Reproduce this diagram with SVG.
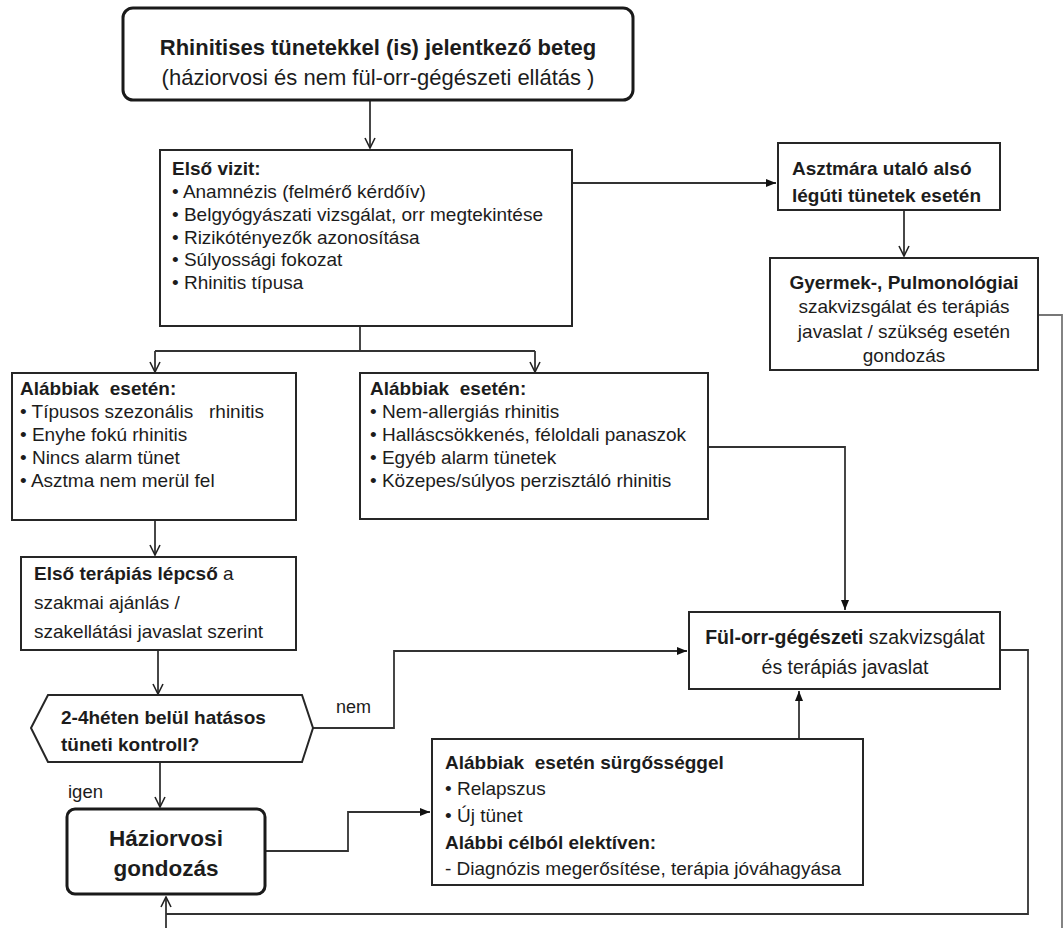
<svg xmlns="http://www.w3.org/2000/svg" width="1064" height="928" viewBox="0 0 1064 928">
<defs>
<marker id="open" viewBox="0 0 12 12" refX="11" refY="6" markerWidth="12" markerHeight="12" markerUnits="userSpaceOnUse" orient="auto">
<path d="M1,1 L11,6 L1,11" fill="none" stroke="#222" stroke-width="1.6"/>
</marker>
<marker id="fill" viewBox="0 0 10 10" refX="10" refY="5" markerWidth="10" markerHeight="10" markerUnits="userSpaceOnUse" orient="auto">
<path d="M0,1 L10,5 L0,9 Z" fill="#111"/>
</marker>
</defs>
<style>
text{font-family:"Liberation Sans",Arial,sans-serif;fill:#1c1c1c;white-space:pre}
.b{font-weight:bold}
.box{fill:#fff;stroke:#262626;stroke-width:2}
.rbox{fill:#fff;stroke:#1a1a1a;stroke-width:3}
.c{fill:none;stroke:#333;stroke-width:1.8}
.cl{fill:none;stroke:#777;stroke-width:1.8}
.t16{font-size:19px}
.t17{font-size:19px}
.mid{text-anchor:middle}
</style>

<g id="connectors">
<path class="c" d="M370,100 V148" marker-end="url(#open)"/>
<path class="c" d="M572,183 H776" marker-end="url(#fill)"/>
<path class="c" d="M904,210 V256" marker-end="url(#open)"/>
<path class="cl" d="M1038,315 H1062 V928"/>
<path class="c" d="M360,326 V351 M155,351 H535"/>
<path class="c" d="M155,351 V372" marker-end="url(#open)"/>
<path class="c" d="M535,351 V372" marker-end="url(#open)"/>
<path class="c" d="M708,447 H845 V610" marker-end="url(#fill)"/>
<path class="c" d="M155,520 V555" marker-end="url(#open)"/>
<path class="c" d="M158,650 V694" marker-end="url(#open)"/>
<path class="c" d="M313,728 H394 V651 H687" marker-end="url(#fill)"/>
<path class="c" d="M160,762 V807" marker-end="url(#open)"/>
<path class="c" d="M265,851 H348 V812 H430" marker-end="url(#fill)"/>
<path class="c" d="M799,739 V691" marker-end="url(#fill)"/>
<path class="c" d="M1000,650 H1028 V914 H166"/>
<path class="c" d="M166,928 V897" marker-end="url(#open)"/>
<text x="336" y="713" style="font-size:18px">nem</text>
<text x="68" y="798" style="font-size:18.5px">igen</text>
</g>

<g id="start">
<rect class="rbox" x="123" y="8" width="510" height="92" rx="10"/>
<text x="378" y="55" class="b mid" style="font-size:22px">Rhinitises tünetekkel (is) jelentkező beteg</text>
<text x="378" y="85" class="mid" style="font-size:22px">(háziorvosi és nem fül-orr-gégészeti ellátás )</text>
</g>

<g id="first-visit">
<rect class="box" x="160" y="150" width="412" height="176"/>
<text x="172" y="175" class="t16 b">Első vizit:</text>
<text x="172" y="198" class="t16">• Anamnézis (felmérő kérdőív)</text>
<text x="172" y="221" class="t16">• Belgyógyászati vizsgálat, orr megtekintése</text>
<text x="172" y="244" class="t16">• Rizikótényezők azonosítása</text>
<text x="172" y="266" class="t16">• Súlyossági fokozat</text>
<text x="172" y="289" class="t16">• Rhinitis típusa</text>
</g>

<g id="asthma">
<rect class="box" x="778" y="143" width="222" height="67"/>
<text x="792" y="175" class="t16 b">Asztmára utaló alsó</text>
<text x="792" y="202" class="t16 b">légúti tünetek esetén</text>
</g>

<g id="pulmo">
<rect class="box" x="770" y="258" width="268" height="112"/>
<text x="904" y="289" class="t16 b mid">Gyermek-, Pulmonológiai</text>
<text x="904" y="313" class="t16 mid">szakvizsgálat és terápiás</text>
<text x="904" y="338" class="t16 mid">javaslat / szükség esetén</text>
<text x="904" y="362" class="t16 mid">gondozás</text>
</g>

<g id="mild">
<rect class="box" x="12" y="373" width="284" height="147"/>
<text x="20" y="395" class="t16 b">Alábbiak  esetén:</text>
<text x="20" y="418" class="t16">• Típusos szezonális   rhinitis</text>
<text x="20" y="441" class="t16">• Enyhe fokú rhinitis</text>
<text x="20" y="464" class="t16">• Nincs alarm tünet</text>
<text x="20" y="487" class="t16">• Asztma nem merül fel</text>
</g>

<g id="severe">
<rect class="box" x="360" y="373" width="348" height="146"/>
<text x="370" y="395" class="t16 b">Alábbiak  esetén:</text>
<text x="370" y="418" class="t16">• Nem-allergiás rhinitis</text>
<text x="370" y="441" class="t16">• Halláscsökkenés, féloldali panaszok</text>
<text x="370" y="464" class="t16">• Egyéb alarm tünetek</text>
<text x="370" y="487" class="t16">• Közepes/súlyos perzisztáló rhinitis</text>
</g>

<g id="therapy">
<rect class="box" x="21" y="557" width="275" height="93"/>
<text x="34" y="580" class="t17"><tspan class="b">Első terápiás lépcső</tspan> a</text>
<text x="34" y="609" class="t17">szakmai ajánlás /</text>
<text x="34" y="638" class="t17">szakellátási javaslat szerint</text>
</g>

<g id="decision">
<polygon class="box" points="31,728 48,695 302,695 313,728 302,762 48,762"/>
<text x="61" y="724" class="t16 b">2-4héten belül hatásos</text>
<text x="61" y="751" class="t16 b">tüneti kontroll?</text>
</g>

<g id="ent">
<rect class="box" x="689" y="612" width="311" height="77"/>
<text x="845" y="644" class="mid" style="font-size:19.5px"><tspan class="b">Fül-orr-gégészeti</tspan> szakvizsgálat</text>
<text x="845" y="674" class="mid" style="font-size:19.5px">és terápiás javaslat</text>
</g>

<g id="gp">
<rect class="rbox" x="67" y="809" width="198" height="85" rx="8"/>
<text x="166" y="846" class="b mid" style="font-size:22.5px">Háziorvosi</text>
<text x="166" y="876" class="b mid" style="font-size:22.5px">gondozás</text>
</g>

<g id="urgent">
<rect class="box" x="432" y="739" width="431" height="146"/>
<text x="445" y="769" class="t16 b">Alábbiak  esetén sürgősséggel</text>
<text x="445" y="795" class="t16">• Relapszus</text>
<text x="445" y="822" class="t16">• Új tünet</text>
<text x="445" y="849" class="t16 b">Alábbi célból elektíven:</text>
<text x="445" y="875" class="t16">- Diagnózis megerősítése, terápia jóváhagyása</text>
</g>
</svg>
